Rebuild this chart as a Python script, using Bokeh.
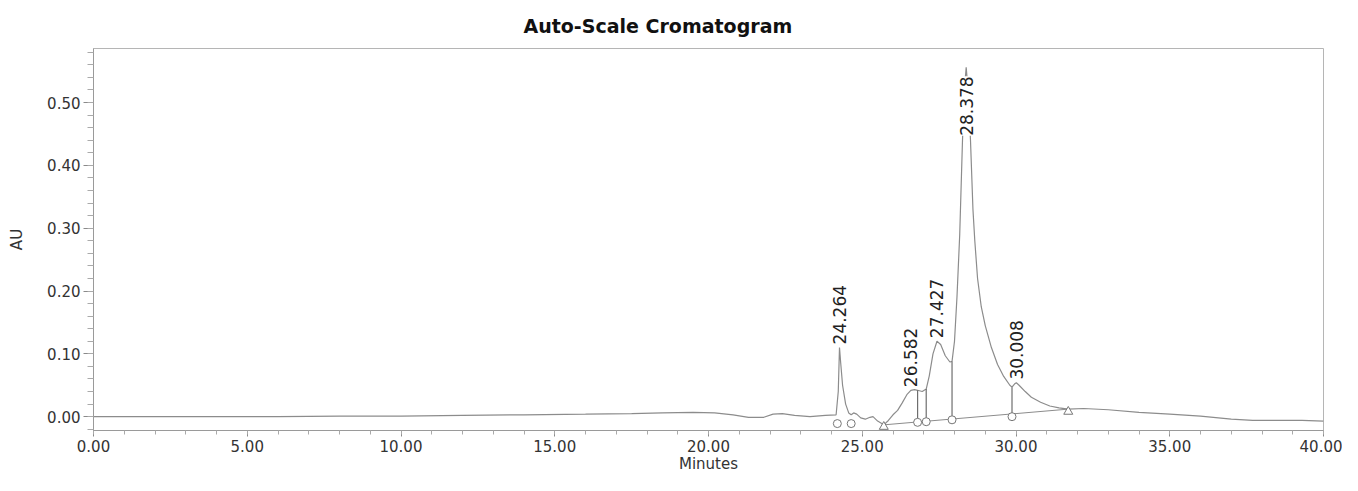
import math
import numpy as np
from bokeh.plotting import figure
from bokeh.models import ColumnDataSource, FixedTicker, NumeralTickFormatter, Range1d
from bokeh.core.properties import value
from bokeh.embed import file_html
from bokeh.resources import INLINE

title_text = "Auto-Scale Cromatogram"
x_label = "Minutes"
y_label = "AU"

# chromatogram trace (minutes, AU)
trace_time = [0.0, 2.0, 4.0, 6.0, 8.0, 10.0, 12.0, 14.0, 16.0, 17.5, 18.5, 19.5,
              20.2, 20.8, 21.3, 21.8, 22.1, 22.4, 22.8, 23.3, 23.8, 24.15, 24.22,
              24.26, 24.30, 24.36, 24.46, 24.56, 24.64, 24.72, 24.82, 24.95, 25.10,
              25.25, 25.35, 25.50, 25.70, 25.85, 26.00, 26.15, 26.30, 26.45, 26.58,
              26.70, 26.80, 26.95, 27.08, 27.18, 27.30, 27.43, 27.55, 27.70, 27.85,
              27.92, 28.00, 28.08, 28.17, 28.26, 28.32, 28.38, 28.44, 28.52, 28.60,
              28.66, 28.75, 28.87, 29.00, 29.20, 29.40, 29.60, 29.80, 29.87, 29.95,
              30.01, 30.10, 30.30, 30.50, 30.80, 31.10, 31.40, 31.70, 32.20, 33.00,
              34.00, 35.00, 36.00, 37.00, 37.70, 38.50, 39.30, 40.00]
trace_au = [0.000, 0.000, 0.000, 0.000, 0.001, 0.001, 0.002, 0.003, 0.004, 0.005, 0.006, 0.007,
            0.006, 0.003, -0.001, -0.001, 0.004, 0.005, 0.002, 0.000, 0.002, 0.003, 0.040,
            0.110, 0.085, 0.050, 0.020, 0.006, 0.003, 0.006, 0.004, -0.002, -0.004,
            -0.001, 0.000, -0.007, -0.013, -0.006, 0.003, 0.010, 0.022, 0.035, 0.042,
            0.043, 0.042, 0.040, 0.044, 0.065, 0.100, 0.120, 0.115, 0.097, 0.087,
            0.088, 0.120, 0.190, 0.290, 0.440, 0.520, 0.556, 0.520, 0.440, 0.330,
            0.280, 0.220, 0.175, 0.145, 0.110, 0.083, 0.064, 0.050, 0.047, 0.052,
            0.054, 0.050, 0.040, 0.031, 0.023, 0.017, 0.014, 0.012, 0.013, 0.011,
            0.007, 0.004, 0.001, -0.004, -0.006, -0.006, -0.006, -0.007]

# integrated peaks
peak_rt = [24.264, 26.582, 27.427, 28.378, 30.008]
peak_height = [0.110, 0.042, 0.120, 0.556, 0.054]

# integration baseline and peak boundaries
baseline_time = [25.70, 31.70]
baseline_au = [-0.013, 0.012]
drop_time = [26.80, 27.08, 27.92, 29.87]

# peak start / end markers
circle_time = [24.19, 24.64, 26.80, 27.08, 27.92, 29.87]
circle_au = [-0.011, -0.011, -0.009, -0.008, -0.005, 0.000]
triangle_time = [25.70, 31.70]
triangle_au = [-0.016, 0.008]

x_major = [0, 5, 10, 15, 20, 25, 30, 35, 40]
x_minor = list(range(0, 41))
y_major = [0.0, 0.1, 0.2, 0.3, 0.4, 0.5]
y_minor = [round(-0.02 + 0.02 * i, 2) for i in range(31)]

p = figure(width=1342, height=475, output_backend="svg", toolbar_location=None,
           x_range=Range1d(0, 40), y_range=Range1d(-0.022, 0.586),
           min_border_left=93, min_border_right=19, min_border_top=47, min_border_bottom=44)
p.background_fill_color = "white"
p.border_fill_color = "white"
p.outline_line_color = "#b5b5b5"
p.outline_line_width = 1
p.grid.visible = False

p.title.text = title_text
p.title.align = "left"
p.title.offset = 430
p.title.text_font = "DejaVu Sans"
p.title.text_font_size = "19px"
p.title.text_font_style = "bold"
p.title.text_color = "#111111"
p.title.standoff = 24

# trace
p.line(trace_time, trace_au, line_color="#8c8c8c", line_width=1.2)

# baseline
p.line(baseline_time, baseline_au, line_color="#8c8c8c", line_width=1.0)

# drop lines
drop_bottom = list(np.interp(drop_time, baseline_time, baseline_au))
drop_top = list(np.interp(drop_time, trace_time, trace_au))
p.segment(x0=drop_time, y0=drop_bottom, x1=drop_time, y1=drop_top,
          line_color="#6e6e6e", line_width=1.2)

# markers
p.scatter(circle_time, circle_au, marker="circle", size=8, line_color="#777777",
          fill_color="white", line_width=1)
p.scatter(triangle_time, triangle_au, marker="triangle", size=9, line_color="#777777",
          fill_color="white", line_width=1)

# peak labels
label_y = [min(h + 0.005, 0.447) for h in peak_height]
labels = ColumnDataSource(dict(x=peak_rt, y=label_y, t=["%.3f" % r for r in peak_rt]))
p.text(x="x", y="y", text="t", source=labels, angle=math.pi / 2,
       text_align="left", text_baseline="middle",
       text_font=value("DejaVu Sans"), text_font_size="17px",
       text_color="#222222", background_fill_color="white")

# axes
for ax in (p.xaxis[0], p.yaxis[0]):
    ax.axis_line_color = "#9a9a9a"
    ax.major_tick_line_color = "#8a8a8a"
    ax.minor_tick_line_color = "#aaaaaa"
    ax.major_tick_in = 0
    ax.minor_tick_in = 0
    ax.major_label_text_font = "DejaVu Sans"
    ax.major_label_text_font_size = "15px"
    ax.major_label_text_color = "#333333"
    ax.axis_label_text_font = "DejaVu Sans"
    ax.axis_label_text_font_size = "15px"
    ax.axis_label_text_font_style = "normal"
    ax.axis_label_text_color = "#333333"
    ax.formatter = NumeralTickFormatter(format="0.00")

p.xaxis.ticker = FixedTicker(ticks=x_major, minor_ticks=x_minor)
p.yaxis.ticker = FixedTicker(ticks=y_major, minor_ticks=y_minor)
p.xaxis.axis_label = x_label
p.yaxis.axis_label = y_label
p.xaxis.major_tick_out = 6
p.xaxis.minor_tick_out = 4
p.xaxis.major_label_standoff = 3
p.xaxis.axis_label_standoff = 0
p.yaxis.major_tick_out = 10
p.yaxis.minor_tick_out = 6
p.yaxis.major_label_standoff = 3
p.yaxis.axis_label_standoff = 18

open("out.html", "w").write(file_html(p, INLINE))
